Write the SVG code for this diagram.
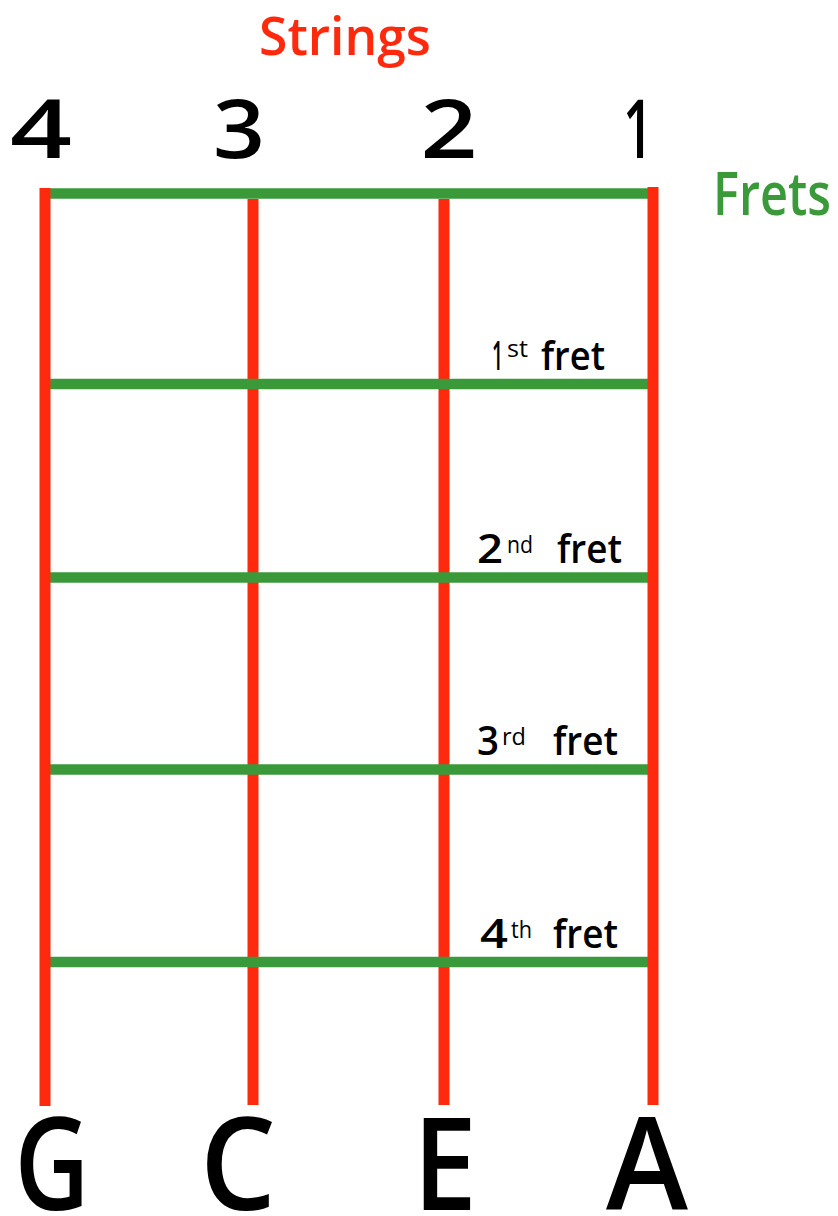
<svg xmlns="http://www.w3.org/2000/svg" width="838" height="1216" viewBox="0 0 838 1216">
<style>
  .str { stroke: #ff2a0e; stroke-width: 11; }
  .fret { stroke: #3a9a3a; stroke-width: 10.5; }
  .t { font-family: "Open Sans", "Liberation Sans", sans-serif; font-weight: 600; }
  .big { font-family: "Open Sans", "Liberation Sans", sans-serif; font-weight: 600; fill: #000; }
  .lbl { font-family: "Open Sans", "Liberation Sans", sans-serif; font-weight: 600; font-size: 39px; fill: #000; }
  .sup { font-size: 24px; font-weight: 500; }
</style>
<rect width="838" height="1216" fill="#ffffff"/>
<g id="connectors">
  <line class="str" x1="253" y1="199" x2="253" y2="1105"/>
  <line class="str" x1="444" y1="199" x2="444" y2="1105"/>
  <line class="fret" x1="50" y1="193.5" x2="648" y2="193.5"/>
  <line class="fret" x1="50" y1="384" x2="648" y2="384"/>
  <line class="fret" x1="50" y1="577.5" x2="648" y2="577.5"/>
  <line class="fret" x1="50" y1="769.5" x2="648" y2="769.5"/>
  <line class="fret" x1="50" y1="962" x2="648" y2="962"/>
  <line class="str" x1="45" y1="188" x2="45" y2="1106"/>
  <line class="str" x1="653" y1="187" x2="653" y2="1105"/>
</g>
<g id="title-strings">
  <text class="t" x="345" y="55" text-anchor="middle" font-size="53" fill="#ff2a0e" textLength="172" lengthAdjust="spacingAndGlyphs">Strings</text>
</g>
<g id="title-frets">
  <text class="t" x="772" y="215" text-anchor="middle" font-size="60" fill="#3a9a3a" textLength="118" lengthAdjust="spacingAndGlyphs">Frets</text>
</g>
<g id="string-numbers">
  <text class="big" x="41" y="158" text-anchor="middle" font-size="81" textLength="62" lengthAdjust="spacingAndGlyphs">4</text>
  <text class="big" x="239" y="158" text-anchor="middle" font-size="81" textLength="52" lengthAdjust="spacingAndGlyphs">3</text>
  <text class="big" x="449" y="158" text-anchor="middle" font-size="81" textLength="57" lengthAdjust="spacingAndGlyphs">2</text>
  <text class="big" x="638" y="158" text-anchor="middle" font-size="81" textLength="30" lengthAdjust="spacingAndGlyphs">1</text>
</g>
<g id="string-notes">
  <text class="big" x="52" y="1210" text-anchor="middle" font-size="128" textLength="75" lengthAdjust="spacingAndGlyphs">G</text>
  <text class="big" x="238" y="1210" text-anchor="middle" font-size="128" textLength="76" lengthAdjust="spacingAndGlyphs">C</text>
  <text class="big" x="445" y="1210" text-anchor="middle" font-size="128" textLength="64" lengthAdjust="spacingAndGlyphs">E</text>
  <text class="big" x="647" y="1210" text-anchor="middle" font-size="128" textLength="82" lengthAdjust="spacingAndGlyphs">A</text>
</g>
<g id="fret-label-1">
  <text class="lbl" x="492" y="370" textLength="11" lengthAdjust="spacingAndGlyphs">1</text>
  <text class="lbl sup" x="507" y="357" textLength="21" lengthAdjust="spacingAndGlyphs">st</text>
  <text class="lbl" x="541" y="370" textLength="64" lengthAdjust="spacingAndGlyphs">fret</text>
</g>
<g id="fret-label-2">
  <text class="lbl" x="477" y="563" textLength="26" lengthAdjust="spacingAndGlyphs">2</text>
  <text class="lbl sup" x="507" y="553" textLength="26" lengthAdjust="spacingAndGlyphs">nd</text>
  <text class="lbl" x="557" y="563" textLength="65" lengthAdjust="spacingAndGlyphs">fret</text>
</g>
<g id="fret-label-3">
  <text class="lbl" x="477" y="755" textLength="22" lengthAdjust="spacingAndGlyphs">3</text>
  <text class="lbl sup" x="502" y="745" textLength="24" lengthAdjust="spacingAndGlyphs">rd</text>
  <text class="lbl" x="553" y="755" textLength="65" lengthAdjust="spacingAndGlyphs">fret</text>
</g>
<g id="fret-label-4">
  <text class="lbl" x="480" y="948" textLength="28" lengthAdjust="spacingAndGlyphs">4</text>
  <text class="lbl sup" x="511" y="938" textLength="21" lengthAdjust="spacingAndGlyphs">th</text>
  <text class="lbl" x="553" y="948" textLength="65" lengthAdjust="spacingAndGlyphs">fret</text>
</g>
</svg>
